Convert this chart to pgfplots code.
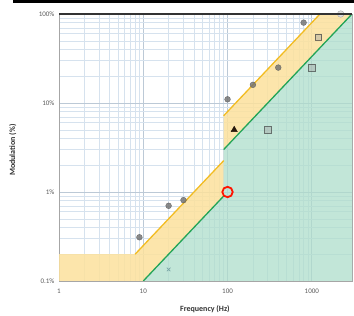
\documentclass[border=0pt]{standalone}
\usepackage{pgfplots}
\pgfplotsset{compat=1.18}
\usepackage{fontspec}
\setmainfont{Carlito}
\definecolor{yfill}{HTML}{FCE19C}
\definecolor{gfill}{HTML}{AEDDCB}
\definecolor{yline}{HTML}{F2BC22}
\definecolor{gline}{HTML}{22A457}
\definecolor{gridminor}{HTML}{D6E2EE}
\definecolor{gridmajor}{HTML}{BCC9D6}
\definecolor{ptgray}{HTML}{6E6E6E}
\begin{document}
\begin{tikzpicture}
\path[use as bounding box] (0,0) rectangle (354pt,316pt);
\fill[black] (13pt,313pt) rectangle (354pt,316pt);
\begin{axis}[
  at={(59pt,35pt)}, anchor=south west,
  scale only axis, width=293pt, height=267pt,
  xmode=log, ymode=log,
  xmin=1, xmax=3000, ymin=0.1, ymax=100,
  xtick={1,10,100,1000}, xticklabels={1,10,100,1000},
  ytick={0.1,1,10,100}, yticklabels={0.1\%,1\%,10\%,100\%},
  major tick length=0pt, minor tick length=0pt,
  grid=both,
  minor grid style={gridminor, line width=0.5pt},
  major grid style={gridmajor, line width=0.7pt},
  axis line style={gray!70, line width=0.8pt},
  tick label style={font=\fontsize{7}{8}\selectfont, text=black!65},
  xticklabel style={yshift=-4pt},
  yticklabel style={xshift=-1pt},
  xlabel={\textbf{Frequency (Hz)}},
  ylabel={\textbf{Modulation (\%)}},
  label style={font=\fontsize{8}{9}\selectfont, text=black!80},
  xlabel style={at={(axis description cs:0.498,-0.107)}, anchor=center},
  ylabel style={at={(axis description cs:-0.158,0.49)}, anchor=center, rotate=0},
  clip mode=individual,
]
% yellow band
\addplot[fill=yfill, fill opacity=0.85, draw=none] coordinates {
  (1,0.1) (1,0.2) (8,0.2) (90,2.25) (90,7.2) (1250,100) (3000,100) (90,3) (90,0.9) (10,0.1)
} -- cycle;
% green region
\addplot[fill=gfill, fill opacity=0.75, draw=none] coordinates {
  (10,0.1) (90,0.9) (90,3) (3000,100) (3000,0.1)
} -- cycle;
% boundary lines
\addplot[yline, line width=1.3pt] coordinates {(8,0.2) (90,2.25)};
\addplot[yline, line width=1.3pt] coordinates {(90,7.2) (1250,100)};
\addplot[gline, line width=1.3pt] coordinates {(10,0.1) (90,0.9)};
\addplot[gline, line width=1.3pt] coordinates {(90,3) (3000,100)};
% gray circles
\addplot[only marks, mark=*, mark size=2.9pt, mark options={fill=ptgray, draw=ptgray!80!black, opacity=0.8}] coordinates {
  (9,0.31) (20,0.7) (30,0.81) (100,11) (200,16) (400,25) (800,80)
};
% open light circle at top
\addplot[only marks, mark=*, mark size=3.3pt, mark options={fill=gray!25, draw=gray!70}] coordinates {(2200,100)};
% squares
\addplot[only marks, mark=square*, mark size=3.2pt, mark options={fill=gray!70, draw=gray!50!black, fill opacity=0.45, draw opacity=0.7}] coordinates {
  (1200,55) (1000,25) (300,5)
};
% triangle
\addplot[only marks, mark=triangle*, mark size=3.6pt, mark options={fill=black!80!brown, draw=black!80!brown}] coordinates {(120,5)};
% x
\addplot[only marks, mark=x, mark size=2.5pt, mark options={draw=teal!50!gray!70, line width=0.7pt}] coordinates {(20,0.135)};
% red circle
\addplot[only marks, mark=o, mark size=5.2pt, mark options={draw=red!85!orange, line width=1.8pt}] coordinates {(100,1)};
\draw[gray!40!black, line width=1.3pt] (rel axis cs:0,1) -- (rel axis cs:1,1);
\end{axis}
\end{tikzpicture}
\end{document}
